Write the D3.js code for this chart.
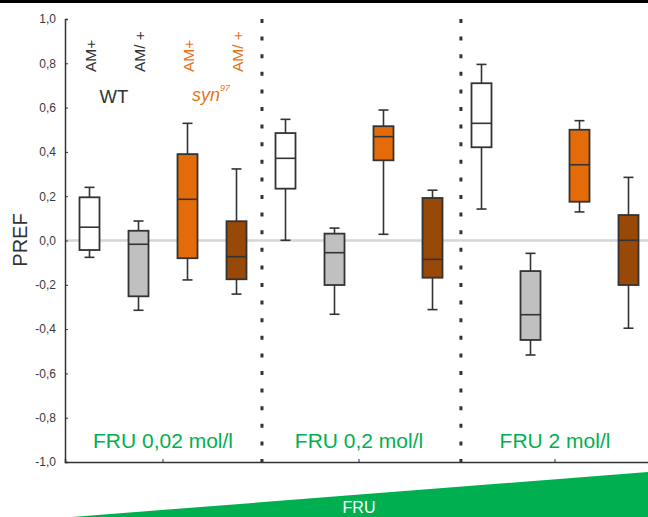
<!DOCTYPE html>
<html>
<head>
<meta charset="utf-8">
<script src="https://cdn.jsdelivr.net/npm/d3@7"></script>
<style>
  body { margin: 0; background: #fff; }
  svg { display: block; font-family: "Liberation Sans", Arial, sans-serif; }
</style>
</head>
<body>
<div id="chart"></div>
<script>
// concentrations (x groups) and genotypes within each group
var groups = ['FRU 0,02 mol/l', 'FRU 0,2 mol/l', 'FRU 2 mol/l'];
var genotypes = ['WT AM+', 'WT AM/+', 'syn AM+', 'syn AM/+'];
var fills = ['#ffffff', '#c0c0c0', '#e36c09', '#984807'];

// box stats per group, in genotype order: [whiskerLow, q1, median, q3, whiskerHigh]
var fru002 = [
    [-0.076, -0.043, 0.06, 0.195, 0.24],
    [-0.315, -0.252, -0.017, 0.044, 0.088],
    [-0.178, -0.08, 0.186, 0.39, 0.529],
    [-0.242, -0.175, -0.073, 0.087, 0.323]
];
var fru02 = [
    [0.001, 0.234, 0.371, 0.485, 0.547],
    [-0.333, -0.201, -0.055, 0.031, 0.056],
    [0.028, 0.362, 0.469, 0.516, 0.589],
    [-0.312, -0.168, -0.085, 0.192, 0.227]
];
var fru2 = [
    [0.142, 0.421, 0.529, 0.71, 0.795],
    [-0.517, -0.449, -0.335, -0.138, -0.058],
    [0.129, 0.175, 0.342, 0.5, 0.541],
    [-0.396, -0.201, 0.001, 0.115, 0.285]
];
var stats = [fru002, fru02, fru2];

var yTicks = [-1, -0.8, -0.6, -0.4, -0.2, 0, 0.2, 0.4, 0.6, 0.8, 1];
// separator positions, in group units (0 = left edge of first group)
var dividers = [1.005, 2.02];

var W = 648, H = 517;
var green = '#00b050';
var dark = '#333333';

var svg = d3.select('#chart').append('svg')
    .attr('width', W)
    .attr('height', H);

var y = d3.scaleLinear().domain([-1, 1]).range([462, 19]);
var x = d3.scaleBand().domain(groups).range([65, 653]).padding(0);
var xg = d3.scaleLinear().domain([0, groups.length]).range(x.range());
var xi = d3.scaleBand().domain(genotypes).range([0, x.bandwidth()]).padding(0);
var boxW = 20;

// top rule
svg.append('rect')
    .attr('x', 0).attr('y', 0)
    .attr('width', W).attr('height', 3)
    .attr('fill', '#000');

// zero line
svg.append('line')
    .attr('x1', x.range()[0]).attr('x2', W)
    .attr('y1', y(0)).attr('y2', y(0))
    .attr('stroke', '#d6d6d6')
    .attr('stroke-width', 2.5);

// dotted separators between groups
dividers.forEach(function (d) {
    svg.append('line')
        .attr('x1', xg(d)).attr('x2', xg(d))
        .attr('y1', y(1)).attr('y2', y(-1))
        .attr('stroke', dark)
        .attr('stroke-width', 3)
        .attr('stroke-dasharray', '4 13.6');
});

// y axis
var yAxis = svg.append('g')
    .attr('transform', 'translate(' + x.range()[0] + ',0)')
    .call(d3.axisLeft(y)
        .tickValues(yTicks)
        .tickSize(-3)
        .tickPadding(9)
        .tickFormat(function (d) { return d3.format('.1f')(d).replace('.', ',').replace('−', '-'); }));
yAxis.select('.domain').attr('stroke', dark).attr('stroke-width', 1.5);
yAxis.selectAll('.tick line').attr('stroke', dark);
yAxis.selectAll('.tick text')
    .attr('fill', '#3a3a3a')
    .style('font-size', '12px')
    .style('font-family', '"Liberation Sans", Arial, sans-serif');

// x axis
var xAxis = svg.append('g')
    .attr('transform', 'translate(0,' + y(-1) + ')')
    .call(d3.axisBottom(x).tickSize(-3).tickFormat(''));
xAxis.select('.domain').attr('stroke', dark).attr('stroke-width', 1.5);
xAxis.selectAll('.tick line').attr('stroke', dark);

// boxes
groups.forEach(function (g, gi) {
    var gg = svg.append('g').attr('transform', 'translate(' + x(g) + ',0)');
    stats[gi].forEach(function (s, k) {
        var cx = xi(genotypes[k]) + xi.bandwidth() / 2;
        var b = gg.append('g');
        b.append('line')
            .attr('x1', cx).attr('x2', cx)
            .attr('y1', y(s[0])).attr('y2', y(s[4]))
            .attr('stroke', dark).attr('stroke-width', 1.6);
        [s[0], s[4]].forEach(function (v) {
            b.append('line')
                .attr('x1', cx - 5).attr('x2', cx + 5)
                .attr('y1', y(v)).attr('y2', y(v))
                .attr('stroke', dark).attr('stroke-width', 1.6);
        });
        b.append('rect')
            .attr('x', cx - boxW / 2)
            .attr('y', y(s[3]))
            .attr('width', boxW)
            .attr('height', y(s[1]) - y(s[3]))
            .attr('fill', fills[k])
            .attr('stroke', dark).attr('stroke-width', 1.8);
        b.append('line')
            .attr('x1', cx - boxW / 2).attr('x2', cx + boxW / 2)
            .attr('y1', y(s[2])).attr('y2', y(s[2]))
            .attr('stroke', dark).attr('stroke-width', 1.6);
    });

    svg.append('text')
        .attr('x', x(g) + x.bandwidth() / 2)
        .attr('y', 448)
        .attr('text-anchor', 'middle')
        .attr('fill', green)
        .style('font-size', '21px')
        .text(g);
});

// genotype labels over the first group
var amLabels = ['AM+', 'AM/ +', 'AM+', 'AM/ +'];
var labelColors = [dark, dark, '#e8731a', '#e8731a'];
genotypes.forEach(function (gt, k) {
    var cx = x(groups[0]) + xi(gt) + xi.bandwidth() / 2 + 6;
    svg.append('text')
        .attr('transform', 'translate(' + cx + ',72) rotate(-90)')
        .attr('text-anchor', 'start')
        .attr('fill', labelColors[k])
        .style('font-size', '15.5px')
        .text(amLabels[k]);
});

svg.append('text')
    .attr('x', x(groups[0]) + (xi(genotypes[0]) + xi(genotypes[1]) + xi.bandwidth()) / 2)
    .attr('y', 103)
    .attr('text-anchor', 'middle')
    .attr('fill', dark)
    .style('font-size', '18.5px')
    .text('WT');

var syn = svg.append('text')
    .attr('x', x(groups[0]) + (xi(genotypes[2]) + xi(genotypes[3]) + xi.bandwidth()) / 2 - 1)
    .attr('y', 101)
    .attr('text-anchor', 'middle')
    .attr('fill', '#e8731a')
    .style('font-size', '18px')
    .style('font-style', 'italic');
syn.append('tspan').text('syn');
syn.append('tspan').attr('dy', -10).style('font-size', '9px').text('97');

// y title
svg.append('text')
    .attr('transform', 'translate(27,240) rotate(-90)')
    .attr('text-anchor', 'middle')
    .attr('fill', dark)
    .style('font-size', '20px')
    .text('PREF');

// rising FRU wedge
svg.append('path')
    .attr('d', d3.line()([[72, H], [W, 472], [W, H]]) + 'Z')
    .attr('fill', green);

svg.append('text')
    .attr('x', x(groups[1]) + x.bandwidth() / 2)
    .attr('y', 513)
    .attr('text-anchor', 'middle')
    .attr('fill', '#fff')
    .style('font-size', '16px')
    .text('FRU');
</script>
</body>
</html>
